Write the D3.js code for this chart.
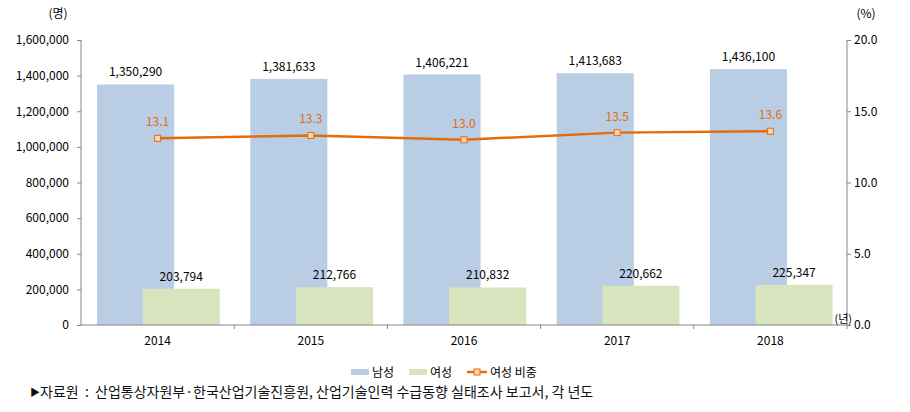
<!DOCTYPE html>
<html><head><meta charset="utf-8">
<script src="https://cdn.jsdelivr.net/npm/d3@7"></script>
<style>
body{margin:0;background:#fff;}
text{font-family:"Noto Sans CJK KR","Malgun Gothic",sans-serif;}
</style></head>
<body><svg id="c" width="910" height="412"></svg>
<script>
const years = ["2014","2015","2016","2017","2018"];
const male = [1350290,1381633,1406221,1413683,1436100];
const female = [203794,212766,210832,220662,225347];
const ratio = [13.1,13.3,13.0,13.5,13.6];
const leftTicks = [0,200000,400000,600000,800000,1000000,1200000,1400000,1600000];
const rightTicks = [0,5,10,15,20];
const legendLabels = ["남성","여성","여성 비중"];
const unitLeft = "(명)", unitRight = "(%)", unitX = "(년)";
const sourceMark = "▶";
const source = "자료원  :  산업통상자원부·한국산업기술진흥원, 산업기술인력 수급동향 실태조사 보고서, 각 년도";

const cMale="#B9CDE5", cFemale="#D7E4BD", cLine="#E46C0A", cMarker="#FCD5B5", cAxis="#868686";
const svg=d3.select("#c");
const L=81,R=847,T=40,B=325;
const x=d3.scaleBand().domain(years).range([L,R]).padding(0);
const y=d3.scaleLinear().domain([0,1600000]).range([B,T]);
const y2=d3.scaleLinear().domain([0,20]).range([B,T]);
const bw=x.bandwidth();
const barW=bw*0.503, mOff=bw*0.105, fOff=bw*0.403;
const fs="12px";

// bars
svg.append("g").selectAll("rect").data(male).join("rect")
 .attr("x",(d,i)=>x(years[i])+mOff).attr("width",barW)
 .attr("y",d=>y(d)).attr("height",d=>B-y(d)).attr("fill",cMale);
svg.append("g").selectAll("rect").data(female).join("rect")
 .attr("x",(d,i)=>x(years[i])+fOff).attr("width",barW)
 .attr("y",d=>y(d)).attr("height",d=>B-y(d)).attr("fill",cFemale);

// bar labels
svg.append("g").selectAll("text").data(male).join("text")
 .attr("x",(d,i)=>x(years[i])+mOff+barW/2).attr("y",d=>y(d)-8)
 .attr("text-anchor","middle").style("font-size",fs).attr("fill","#000")
 .text(d=>d3.format(",")(d));
svg.append("g").selectAll("text").data(female).join("text")
 .attr("x",(d,i)=>x(years[i])+fOff+barW/2).attr("y",d=>y(d)-8)
 .attr("text-anchor","middle").style("font-size",fs).attr("fill","#000")
 .text(d=>d3.format(",")(d));

// axes
const gl=svg.append("g").attr("transform",`translate(${L},0)`)
 .call(d3.axisLeft(y).tickValues(leftTicks).tickSize(4).tickPadding(8).tickFormat(d3.format(",")));
const gr=svg.append("g").attr("transform",`translate(${R},0)`)
 .call(d3.axisRight(y2).tickValues(rightTicks).tickSize(4).tickPadding(3).tickFormat(d3.format(".1f")));
[gl,gr].forEach(g=>{
 g.select(".domain").attr("stroke",cAxis).attr("d",`M0,${T}V${B}`);
 g.selectAll(".tick line").attr("stroke",cAxis);
 g.selectAll(".tick text").style("font-size",fs).attr("fill","#000").style("font-family",'"Noto Sans CJK KR",sans-serif');
});
// x axis
svg.append("line").attr("x1",L).attr("x2",R).attr("y1",B).attr("y2",B).attr("stroke",cAxis);
svg.append("g").selectAll("line").data(years).join("line")
 .attr("x1",(d,i)=>x(d)+bw).attr("x2",(d,i)=>x(d)+bw)
 .attr("y1",B).attr("y2",B+4).attr("stroke",cAxis);
svg.append("g").selectAll("text").data(years).join("text")
 .attr("x",d=>x(d)+bw/2).attr("y",B+20).attr("text-anchor","middle")
 .style("font-size",fs).text(d=>d);

// line
const line=d3.line().x((d,i)=>x(years[i])+bw/2).y(d=>y2(d));
svg.append("path").datum(ratio).attr("d",line).attr("fill","none")
 .attr("stroke",cLine).attr("stroke-width",2.5);
svg.append("g").selectAll("rect").data(ratio).join("rect")
 .attr("x",(d,i)=>x(years[i])+bw/2-3).attr("y",d=>y2(d)-3)
 .attr("width",6).attr("height",6).attr("fill",cMarker).attr("stroke",cLine).attr("stroke-width",1);
svg.append("g").selectAll("text").data(ratio).join("text")
 .attr("x",(d,i)=>x(years[i])+bw/2).attr("y",d=>y2(d)-12)
 .attr("text-anchor","middle").style("font-size",fs).attr("fill",cLine)
 .text(d=>d3.format(".1f")(d));

// units
svg.append("text").attr("x",58).attr("y",18).attr("text-anchor","middle").style("font-size",fs).text(unitLeft);
svg.append("text").attr("x",866).attr("y",18).attr("text-anchor","middle").style("font-size",fs).text(unitRight);
svg.append("text").attr("x",852).attr("y",323).attr("text-anchor","end").style("font-size","11px").text(unitX);

// legend
const lg=svg.append("g");
const lx=[351,409,467];
lg.append("rect").attr("x",lx[0]).attr("y",369).attr("width",18).attr("height",6).attr("fill",cMale);
lg.append("rect").attr("x",lx[1]).attr("y",369).attr("width",18).attr("height",6).attr("fill",cFemale);
lg.append("line").attr("x1",lx[2]).attr("x2",lx[2]+20).attr("y1",372).attr("y2",372).attr("stroke",cLine).attr("stroke-width",2.5);
lg.append("rect").attr("x",lx[2]+7).attr("y",369).attr("width",6).attr("height",6).attr("fill",cMarker).attr("stroke",cLine);
const tx=[372,430,490];
legendLabels.forEach((t,i)=>lg.append("text").attr("x",tx[i]).attr("y",376.5).style("font-size",fs).text(t));

// source
const st=svg.append("text").attr("x",30).attr("y",397).style("font-size","14px").attr("fill","#111").style("white-space","pre");
st.append("tspan").style("font-size","10px").attr("dy","-1").text(sourceMark);
st.append("tspan").attr("dy","1").text(source);
</script></body></html>
